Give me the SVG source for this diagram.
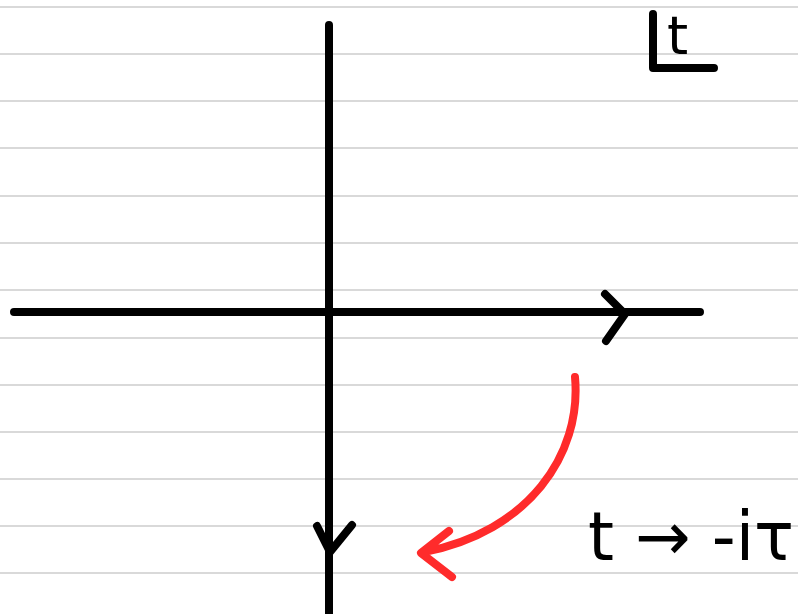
<svg xmlns="http://www.w3.org/2000/svg" width="798" height="614" viewBox="0 0 798 614">
<style>
.rule{stroke:#d9d9d9;stroke-width:2}
.ink{fill:none;stroke:#000;stroke-width:8;stroke-linecap:round;stroke-linejoin:round}
.red{fill:none;stroke:#ff2b2b;stroke-width:8;stroke-linecap:round;stroke-linejoin:round}
.hand{font-family:"DejaVu Sans",sans-serif;fill:#000}
</style>
<rect width="798" height="614" fill="#fff"/>
<g id="ruling">
<line class="rule" x1="0" y1="7" x2="798" y2="7"/>
<line class="rule" x1="0" y1="54" x2="798" y2="54"/>
<line class="rule" x1="0" y1="101" x2="798" y2="101"/>
<line class="rule" x1="0" y1="148" x2="798" y2="148"/>
<line class="rule" x1="0" y1="196" x2="798" y2="196"/>
<line class="rule" x1="0" y1="243" x2="798" y2="243"/>
<line class="rule" x1="0" y1="290" x2="798" y2="290"/>
<line class="rule" x1="0" y1="338" x2="798" y2="338"/>
<line class="rule" x1="0" y1="385" x2="798" y2="385"/>
<line class="rule" x1="0" y1="432" x2="798" y2="432"/>
<line class="rule" x1="0" y1="479" x2="798" y2="479"/>
<line class="rule" x1="0" y1="526" x2="798" y2="526"/>
<line class="rule" x1="0" y1="573" x2="798" y2="573"/>
</g>
<g id="connectors">
<path id="real-axis" class="ink" d="M14,312 L700,312 M605,294 L625,314 L606,341"/>
<path id="imag-axis" class="ink" d="M329,25 L329,614 M317,526 L330,552 L352,525"/>
<path id="rotation" class="red" d="M575,377 C582,455 528,532 424,552 M449,531 L421,553 L452,577"/>
</g>
<g id="plane-label">
<path class="ink" d="M653,14 L653,68 L714,68"/>
<text class="hand" x="667" y="54" font-size="54">t</text>
</g>
<g id="wick-label">
<text class="hand" x="588" y="560" font-size="68" textLength="206" lengthAdjust="spacingAndGlyphs">t → -iτ</text>
</g>
</svg>
